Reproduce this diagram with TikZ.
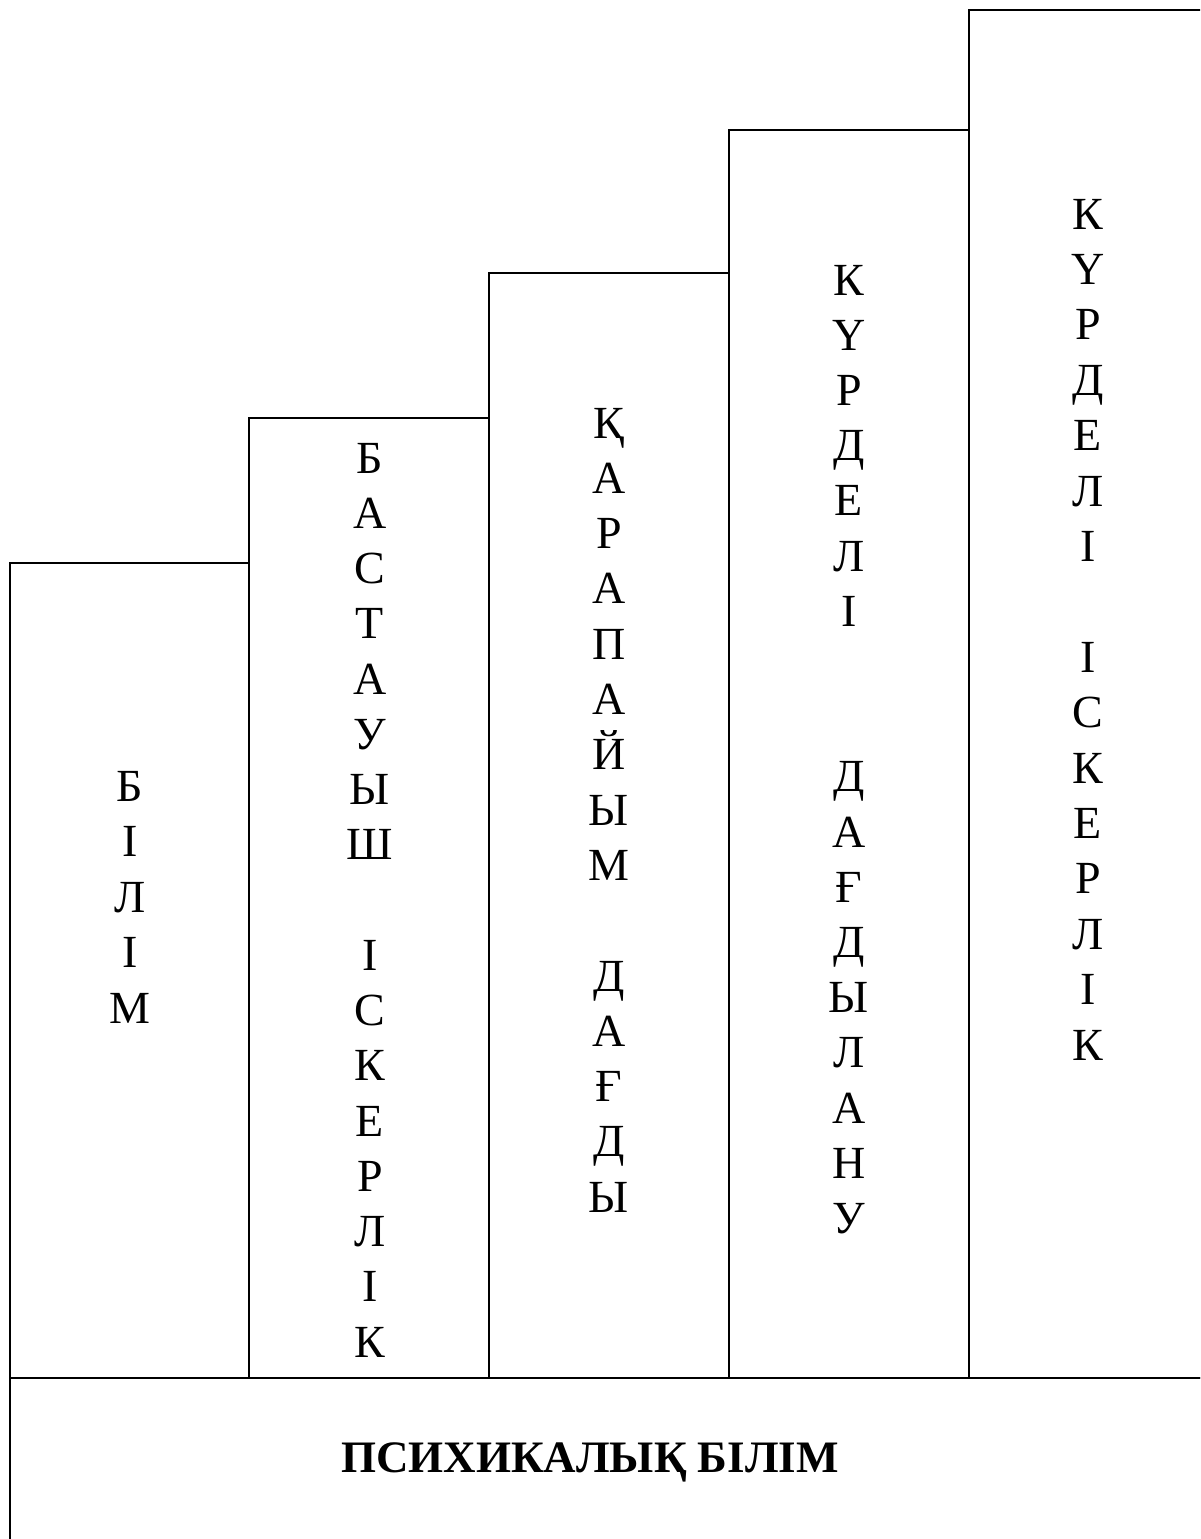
\documentclass[tikz,border=0pt]{standalone}
\usepackage{fontspec}
\setmainfont{Liberation Serif}
\begin{document}
\begin{tikzpicture}[x=1pt,y=-1pt,
  colbox/.style={draw=black,line width=2pt,fill=white},
  letter/.style={anchor=base,inner sep=0pt,font=\fontsize{46}{55}\selectfont}]
\useasboundingbox (0,0) rectangle (1200,1539);
\fill[white] (0,0) rectangle (1200,1539);
\clip (0,0) rectangle (1200,1539);
\draw[colbox] (10,563) rectangle (249,1378);
\draw[colbox] (249,418) rectangle (489,1378);
\draw[colbox] (489,273) rectangle (729,1378);
\draw[colbox] (729,130) rectangle (969,1378);
\draw[colbox] (969,10) rectangle (1215,1378);
\draw[colbox] (10,1378) rectangle (1215,1560);
\foreach \l [count=\i from 0] in {Б,І,Л,І,М}
  \node[letter] (ca-\i) at (130,{801+\i*55.5}) {\l};
\foreach \l [count=\i from 0] in {Б,А,С,Т,А,У,Ы,Ш,{},І,С,К,Е,Р,Л,І,К}
  \node[letter] (cb-\i) at (370,{473+\i*55.25}) {\l};
\foreach \l [count=\i from 0] in {Қ,А,Р,А,П,А,Й,Ы,М,{},Д,А,Ғ,Д,Ы}
  \node[letter] (cc-\i) at (609,{438+\i*55.3}) {\l};
\foreach \l [count=\i from 0] in {К,Ү,Р,Д,Е,Л,І,{},{},Д,А,Ғ,Д,Ы,Л,А,Н,У}
  \node[letter] (cd-\i) at (849,{295+\i*55.2}) {\l};
\foreach \l [count=\i from 0] in {К,Ү,Р,Д,Е,Л,І,{},І,С,К,Е,Р,Л,І,К}
  \node[letter] (ce-\i) at (1088,{229+\i*55.4}) {\l};
\node[anchor=base,inner sep=0pt,font=\bfseries\fontsize{45}{55}\selectfont] (title) at (590,1472) {ПСИХИКАЛЫҚ БІЛІМ};
\end{tikzpicture}
\end{document}
